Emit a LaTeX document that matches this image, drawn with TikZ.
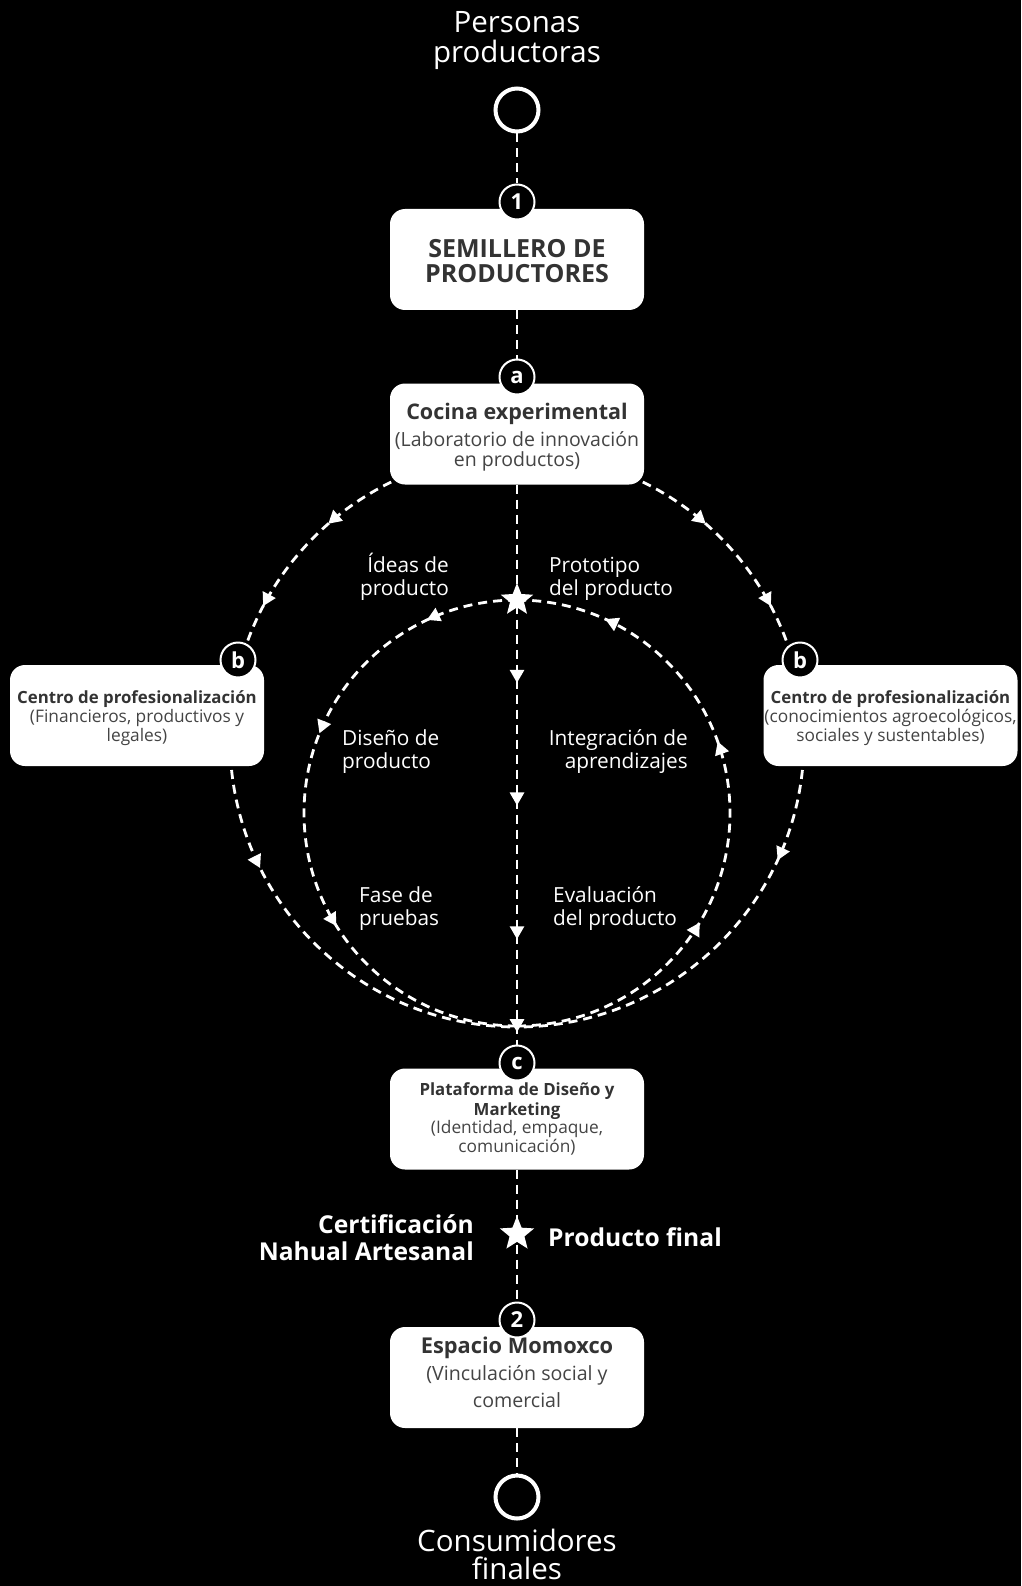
\documentclass[tikz,border=0pt]{standalone}
\usepackage{fontspec}
\setmainfont{Open Sans}
\usetikzlibrary{arrows.meta,decorations.markings,shapes.geometric}
\definecolor{ink}{HTML}{333333}
\definecolor{soft}{HTML}{444444}
\newcommand{\fsz}[1]{\fontsize{#1}{#1}\selectfont}
\tikzset{tri/.tip={Triangle[width=14pt,length=13pt]}}
\begin{document}
\begin{tikzpicture}[x=1pt,y=1pt,
  dl/.style={draw=white, line width=2.8pt, dash pattern=on 9pt off 6pt},
  box/.style={fill=white, rounded corners=15pt, minimum width=254pt, minimum height=101pt, inner sep=0pt},
  badge/.style={circle, fill=black, draw=white, line width=2pt, minimum size=35pt, inner sep=0pt, text=white, font=\bfseries\fsz{22}},
  endc/.style={circle, fill=black, draw=white, line width=4pt, minimum size=43pt, inner sep=0pt},
  starn/.style={star, star points=5, star point ratio=2.3, fill=white, inner sep=0pt, minimum size=34pt},
  bt/.style={text=ink, inner sep=0pt, anchor=base},
  lt/.style={text=soft, inner sep=0pt, anchor=base},
  wl/.style={text=white, inner sep=0pt, font=\fsz{20.8}},
  ht/.style={text=white, inner sep=0pt, anchor=base, font=\fsz{29.5}},
  bw/.style={text=white, inner sep=0pt, font=\bfseries\fsz{24.6}},
]
\fill[black] (0,0) rectangle (1021,-1586);
\useasboundingbox (0,0) rectangle (1021,-1586);
\coordinate (O) at (517,-740);
\coordinate (I) at (517,-813);

% outer arcs
\draw[dl, postaction={decorate}, decoration={markings, mark=at position 0.384 with {\arrow{tri}}, mark=at position 0.767 with {\arrow{tri}}}]
  (O) ++(110:287) arc[start angle=110, end angle=165, radius=287];
\draw[dl, postaction={decorate}, decoration={markings, mark=at position 0.384 with {\arrow{tri}}, mark=at position 0.767 with {\arrow{tri}}}]
  (O) ++(70:287) arc[start angle=70, end angle=15, radius=287];
\draw[dl, postaction={decorate}, decoration={markings, mark=at position 0.27 with {\arrow{tri}}}]
  (O) ++(183:287) arc[start angle=183, end angle=270, radius=287];
\draw[dl, postaction={decorate}, decoration={markings, mark=at position 0.25 with {\arrow{tri}}}]
  (O) ++(-3:287) arc[start angle=-3, end angle=-90, radius=287];
% inner arcs
\draw[dl, postaction={decorate}, decoration={markings, mark=at position 0.139 with {\arrow{tri}}, mark=at position 0.378 with {\arrow{tri}}, mark=at position 0.678 with {\arrow{tri}}}]
  (I) ++(90:213) arc[start angle=90, end angle=270, radius=213];
\draw[dl, postaction={decorate}, decoration={markings, mark=at position 0.328 with {\arrow{tri}}, mark=at position 0.609 with {\arrow{tri}}, mark=at position 0.864 with {\arrow{tri}}}]
  (I) ++(-90:213) arc[start angle=-90, end angle=90, radius=213];

% boxes
\node[box] (semi) at (517,-259.5) {};
\node[bt, font=\bfseries\fsz{25}] (semit1) at (517,-258) {SEMILLERO DE};
\node[bt, font=\bfseries\fsz{25}] (semit2) at (517,-283) {PRODUCTORES};

\node[box] (coc) at (517,-434) {};
\node[bt, font=\bfseries\fsz{21.5}] (coct1) at (517,-419) {Cocina experimental};
\node[lt, font=\fsz{19.5}] (coct2) at (517,-446) {(Laboratorio de innovación};
\node[lt, font=\fsz{19.5}] (coct3) at (517,-466) {en productos)};

\node[box] (cenl) at (137,-715.5) {};
\node[bt, font=\bfseries\fsz{16.8}] (cenlt1) at (137,-703) {Centro de profesionalización};
\node[lt, font=\fsz{17.3}] (cenlt2) at (137,-722) {(Financieros, productivos y};
\node[lt, font=\fsz{17.3}] (cenlt3) at (137,-741) {legales)};

\node[box] (cenr) at (890.5,-715.5) {};
\node[bt, font=\bfseries\fsz{16.8}] (cenrt1) at (890.5,-703) {Centro de profesionalización};
\node[lt, font=\fsz{17.3}] (cenrt2) at (890.5,-722) {(conocimientos agroecológicos,};
\node[lt, font=\fsz{17.3}] (cenrt3) at (890.5,-741) {sociales y sustentables)};

\node[box] (plat) at (517,-1119) {};
\node[bt, font=\bfseries\fsz{16.8}] (platt1) at (517,-1095) {Plataforma de Diseño y};
\node[bt, font=\bfseries\fsz{16.8}] (platt2) at (517,-1115) {Marketing};
\node[lt, font=\fsz{17.3}] (platt3) at (517,-1133) {(Identidad, empaque,};
\node[lt, font=\fsz{17.3}] (platt4) at (517,-1152) {comunicación)};

\node[box] (esp) at (517,-1377.5) {};
\node[bt, font=\bfseries\fsz{21.8}] (espt1) at (517,-1353) {Espacio Momoxco};
\node[lt, font=\fsz{19.6}] (espt2) at (517,-1380) {(Vinculación social y};
\node[lt, font=\fsz{19.6}] (espt3) at (517,-1407) {comercial};

% badges and end circles
\node[badge] (b1) at (517,-202) {1};
\node[badge] (ba) at (517,-377) {a};
\node[badge] (bbl) at (238,-660) {b};
\node[badge] (bbr) at (800,-660) {b};
\node[badge] (bc) at (517,-1063) {c};
\node[badge] (b2) at (517,-1320) {2};
\node[endc] (top) at (517,-110) {};
\node[endc] (bot) at (517,-1497) {};

% connectors
\draw[dl] (top) -- (b1);
\draw[dl] (semi) -- (ba);
\draw[dl, postaction={decorate}, decoration={markings, mark=at position 0.354 with {\arrow{tri}}, mark=at position 0.573 with {\arrow{tri}}, mark=at position 0.812 with {\arrow{tri}}, mark=at position 0.978 with {\arrow{tri}}}] (coc) -- (bc);
\draw[dl] (plat) -- (b2);
\draw[dl] (esp) -- (bot);

% stars
\node[starn] (s1) at (517,-600) {};
\node[starn, minimum size=36pt] (s2) at (517,-1234) {};

% headings
\node[ht] (h1) at (517,-33) {Personas};
\node[ht] (h2) at (517,-63) {productoras};
\node[ht] (h3) at (517,-1551) {Consumidores};
\node[ht] (h4) at (517,-1579) {finales};

% inner labels
\node[wl, anchor=base east] (l1a) at (449,-572) {Ídeas de};
\node[wl, anchor=base east] (l1b) at (449,-595) {producto};
\node[wl, anchor=base west] (l2a) at (549,-572) {Prototipo};
\node[wl, anchor=base west] (l2b) at (549,-595) {del producto};
\node[wl, anchor=base west] (l3a) at (342,-745) {Diseño de};
\node[wl, anchor=base west] (l3b) at (342,-768) {producto};
\node[wl, anchor=base east] (l4a) at (688,-745) {Integración de};
\node[wl, anchor=base east] (l4b) at (688,-768) {aprendizajes};
\node[wl, anchor=base west] (l5a) at (359,-902) {Fase de};
\node[wl, anchor=base west] (l5b) at (359,-925) {pruebas};
\node[wl, anchor=base west] (l6a) at (553,-902) {Evaluación};
\node[wl, anchor=base west] (l6b) at (553,-925) {del producto};

% final labels
\node[bw, anchor=base east] (c1) at (474,-1233) {Certificación};
\node[bw, anchor=base east] (c2) at (474,-1260) {Nahual Artesanal};
\node[bw, anchor=base west] (pf) at (548,-1246) {Producto final};
\end{tikzpicture}
\end{document}
